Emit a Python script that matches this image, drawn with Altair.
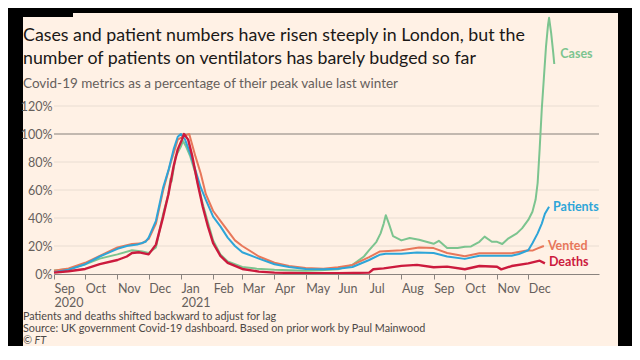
import altair as alt
import pandas as pd

# ---------------- data ----------------
cases_dates = ["2020-09-01", "2020-09-15", "2020-10-01", "2020-10-15", "2020-11-01", "2020-11-15",
               "2020-11-25", "2020-12-01", "2020-12-08", "2020-12-15", "2020-12-20", "2020-12-22",
               "2020-12-23", "2020-12-27", "2021-01-01", "2021-01-03", "2021-01-06", "2021-01-10",
               "2021-01-15", "2021-01-22", "2021-02-01", "2021-02-08", "2021-02-15", "2021-03-01",
               "2021-03-15", "2021-04-01", "2021-04-15", "2021-05-01", "2021-05-15", "2021-06-01",
               "2021-06-15", "2021-06-26", "2021-07-01", "2021-07-08", "2021-07-12", "2021-07-15",
               "2021-07-17", "2021-07-20", "2021-07-24", "2021-08-01", "2021-08-09", "2021-08-18",
               "2021-09-01", "2021-09-06", "2021-09-14", "2021-09-24", "2021-10-01", "2021-10-07",
               "2021-10-15", "2021-10-20", "2021-10-27", "2021-11-01", "2021-11-06", "2021-11-12",
               "2021-11-20", "2021-11-25", "2021-12-01", "2021-12-05", "2021-12-08", "2021-12-10",
               "2021-12-12", "2021-12-14", "2021-12-16", "2021-12-18", "2021-12-20", "2021-12-21",
               "2021-12-23", "2021-12-25", "2021-12-26"]
cases_vals = [2.5, 3.5, 7, 11, 14, 17,
              16, 15, 19, 43, 57, 68,
              66, 84, 91, 95, 91, 84,
              72, 50, 24, 14, 9, 5,
              3.8, 3, 2.6, 2.4, 2.6, 3.4,
              6.5, 12.5, 17, 23, 29, 36,
              42, 36, 27, 24, 25.7, 24.5,
              21.6, 23.7, 18.5, 18.5, 19.5, 19.7,
              23, 26.7, 23, 23, 21.4, 25.5,
              29, 32.6, 38.6, 44.5, 53, 65,
              90, 118, 140, 162, 178, 183,
              172, 158, 150]

patients_dates = ["2020-09-01", "2020-09-15", "2020-10-01", "2020-10-15", "2020-11-01", "2020-11-10",
                  "2020-11-20", "2020-11-28", "2020-12-01", "2020-12-08", "2020-12-15", "2020-12-20",
                  "2020-12-25", "2020-12-29", "2021-01-01", "2021-01-05", "2021-01-10", "2021-01-15",
                  "2021-01-20", "2021-01-25", "2021-02-01", "2021-02-08", "2021-02-15", "2021-02-22",
                  "2021-03-01", "2021-03-17", "2021-04-01", "2021-04-15", "2021-05-01", "2021-05-18",
                  "2021-06-01", "2021-06-15", "2021-07-01", "2021-07-11", "2021-07-17", "2021-08-01",
                  "2021-08-16", "2021-09-01", "2021-09-14", "2021-10-01", "2021-10-15", "2021-11-01",
                  "2021-11-15", "2021-11-22", "2021-12-01", "2021-12-05", "2021-12-10", "2021-12-14",
                  "2021-12-17", "2021-12-21"]
patients_vals = [1.2, 3, 7, 12.5, 18, 20,
                 21, 23, 26, 38, 62, 74,
                 89, 98, 100, 96, 86, 74,
                 62, 53, 41, 34, 26, 20,
                 15.5, 11, 7, 5, 3.6, 3.4,
                 3.8, 5, 10, 13.7, 14.4, 14.4,
                 15.3, 15, 12.5, 10.8, 13, 13,
                 13, 14.3, 17, 22, 29, 36,
                 43, 48]

vented_dates = ["2020-09-01", "2020-09-15", "2020-10-01", "2020-10-15", "2020-11-01", "2020-11-15",
                "2020-11-25", "2020-12-01", "2020-12-08", "2020-12-15", "2020-12-22", "2020-12-29",
                "2021-01-05", "2021-01-09", "2021-01-15", "2021-01-20", "2021-01-25", "2021-02-01",
                "2021-02-08", "2021-02-15", "2021-02-22", "2021-03-01", "2021-03-17", "2021-04-01",
                "2021-04-15", "2021-05-01", "2021-05-18", "2021-06-01", "2021-06-15", "2021-07-01",
                "2021-07-11", "2021-08-01", "2021-08-18", "2021-09-01", "2021-09-14", "2021-10-01",
                "2021-10-15", "2021-11-01", "2021-11-15", "2021-12-01", "2021-12-05", "2021-12-10",
                "2021-12-14", "2021-12-16"]
vented_vals = [2.4, 4, 8, 13, 19, 21.5,
               22, 25, 36, 60, 79, 96,
               99, 100, 84, 72, 57, 45,
               38, 31, 24, 20, 12.5, 8,
               5.8, 4.3, 3.8, 4.8, 6.5, 12,
               16, 17, 19, 18.5, 15, 12.7,
               14.8, 14.8, 14.8, 17, 16.7, 18.3,
               19.5, 20]

deaths_dates = ["2020-09-01", "2020-09-15", "2020-10-01", "2020-10-15", "2020-11-01", "2020-11-10",
                "2020-11-15", "2020-11-22", "2020-12-01", "2020-12-08", "2020-12-15", "2020-12-20",
                "2020-12-25", "2020-12-29", "2021-01-02", "2021-01-04", "2021-01-08", "2021-01-12",
                "2021-01-17", "2021-01-22", "2021-01-27", "2021-02-01", "2021-02-08", "2021-02-15",
                "2021-03-01", "2021-03-17", "2021-04-01", "2021-05-01", "2021-06-01", "2021-07-01",
                "2021-07-05", "2021-07-15", "2021-08-01", "2021-08-16", "2021-09-01", "2021-09-14",
                "2021-10-01", "2021-10-15", "2021-11-01", "2021-11-05", "2021-11-15", "2021-12-01",
                "2021-12-08", "2021-12-12", "2021-12-17"]
deaths_vals = [1, 2, 3.6, 7, 10, 12.5,
               15, 15.5, 14, 21, 41, 57,
               77, 89, 96, 100, 96, 84,
               65, 48, 34, 22, 13, 8,
               3.6, 1.7, 1, 0.5, 0.5, 1,
               3.4, 4, 5.8, 6.5, 4.8, 5.3,
               3.4, 5.7, 5.2, 3.3, 5.7, 7.6,
               8.8, 9.5, 7.6]

series_names = ["Cases", "Vented", "Patients", "Deaths"]
series_colors = ["#7cc48f", "#e8775a", "#2ea5d8", "#cc1a3d"]
series_dy = [-10, 0, 0, -1]
series_dx = [6, 4, 4, 4]

month_ticks = ["2020-09-01", "2020-10-01", "2020-11-01", "2020-12-01", "2021-01-01", "2021-02-01",
               "2021-03-01", "2021-04-01", "2021-05-01", "2021-06-01", "2021-07-01", "2021-08-01",
               "2021-09-01", "2021-10-01", "2021-11-01", "2021-12-01"]
y_ticks = [0, 20, 40, 60, 80, 100, 120]

title_lines = ["Cases and patient numbers have risen steeply in London, but the",
               "number of patients on ventilators has barely budged so far"]
subtitle = "Covid-19 metrics as a percentage of their peak value last winter"
footnotes = ["Patients and deaths shifted backward to adjust for lag",
             "Source: UK government Covid-19 dashboard. Based on prior work by Paul Mainwood",
             "\u00a9 FT"]

# ---------------- build ----------------
def ms(d):
    return int(pd.Timestamp(d, tz="UTC").value // 10**6)

FONT = "Lato"
CREAM = "#fff1e5"
GREY = "#66605c"

data_map = {
    "Cases": (cases_dates, cases_vals),
    "Vented": (vented_dates, vented_vals),
    "Patients": (patients_dates, patients_vals),
    "Deaths": (deaths_dates, deaths_vals),
}

x_scale = alt.Scale(type="utc", domain=[ms("2020-09-01"), ms("2022-02-07")])
y_scale = alt.Scale(domain=[0, 120], nice=False, zero=True)

label_expr = ("(utcFormat(datum.value, '%m') == '09' && utcFormat(datum.value, '%Y') == '2020') || "
              "utcFormat(datum.value, '%m') == '01' ? [utcFormat(datum.value, '%b'), "
              "utcFormat(datum.value, '%Y')] : utcFormat(datum.value, '%b')")

x_axis = alt.Axis(values=[ms(d) for d in month_ticks], labelExpr=label_expr, title=None,
                  grid=False, domainColor="#8a837e", tickColor="#8a837e", tickSize=5,
                  labelColor=GREY, labelFont=FONT, labelFontSize=12.5, labelAlign="left",
                  labelBaseline="top", labelPadding=3, labelLineHeight=14, labelFlush=False,
                  labelOverlap=False, zindex=2)
y_axis = alt.Axis(values=y_ticks, labelExpr="datum.value + '%'", title=None, grid=False,
                  domain=False, ticks=False, labelColor=GREY, labelFont=FONT, labelFontSize=12.5,
                  labelPadding=2, labelBaseline="middle", zindex=2)

X = lambda f: alt.X(f, scale=x_scale, axis=x_axis)
Y = lambda f: alt.Y(f, scale=y_scale, axis=y_axis)

dummy = pd.DataFrame({"a": [0]})

panel = alt.Chart(dummy).mark_rect(fill=CREAM, clip=False).encode(
    x=alt.value(-31), x2=alt.value(564), y=alt.value(-93), y2=alt.value(240))
notch = alt.Chart(dummy).mark_rect(fill="black", clip=False).encode(
    x=alt.value(-31), x2=alt.value(19), y=alt.value(-93), y2=alt.value(-89))

grid_df = pd.DataFrame({"v": [v for v in y_ticks if v not in (0, 100)]})
grid = alt.Chart(grid_df).mark_rule(color="#e9ddd2", strokeWidth=1).encode(y=Y("v:Q"))
hundred = alt.Chart(pd.DataFrame({"v": [100]})).mark_rule(
    color="#85807b", strokeWidth=1.2).encode(y=Y("v:Q"))

layers = [panel, notch, grid, hundred]

for i, name in enumerate(series_names):
    ds, vs = data_map[name]
    df = pd.DataFrame({"date": [ms(d) for d in ds], "value": vs})
    line = alt.Chart(df).mark_line(color=series_colors[i],
                                   strokeWidth=2.4 if name == "Deaths" else 2.0,
                                   clip=False, strokeJoin="round").encode(
        x=X("date:T"), y=Y("value:Q"))
    label = alt.Chart(df.tail(1).assign(name=name)).mark_text(
        align="left", baseline="middle", dx=series_dx[i], dy=series_dy[i], font=FONT,
        fontSize=12.5, fontWeight="bold", color=series_colors[i], clip=False).encode(
        x=X("date:T"), y=Y("value:Q"), text="name:N")
    layers += [line, label]

for txt, yy in zip(title_lines, [-65, -42]):
    layers.append(alt.Chart(pd.DataFrame({"t": [txt]})).mark_text(
        align="left", baseline="alphabetic", font=FONT, fontSize=17.8, color="#1a1817").encode(
        x=alt.value(-31), y=alt.value(yy), text="t:N"))
layers.append(alt.Chart(pd.DataFrame({"t": [subtitle]})).mark_text(
    align="left", baseline="alphabetic", font=FONT, fontSize=13.5, color=GREY).encode(
    x=alt.value(-31), y=alt.value(-18), text="t:N"))

for j, (txt, yy) in enumerate(zip(footnotes, [213.5, 226, 238])):
    layers.append(alt.Chart(pd.DataFrame({"t": [txt]})).mark_text(
        align="left", baseline="alphabetic", font=FONT, fontSize=10.8,
        fontStyle="italic" if j == 2 else "normal", color="#4d4845").encode(
        x=alt.value(-31), y=alt.value(yy), text="t:N"))

chart = alt.layer(*layers).properties(
    width=545, height=168, background="black",
    padding={"left": 46, "top": 98, "right": 33, "bottom": 72},
    autosize=alt.AutoSizeParams(type="none"),
).configure_view(stroke=None)

chart.save("out.html", embed_options={"renderer": "svg", "actions": False})
